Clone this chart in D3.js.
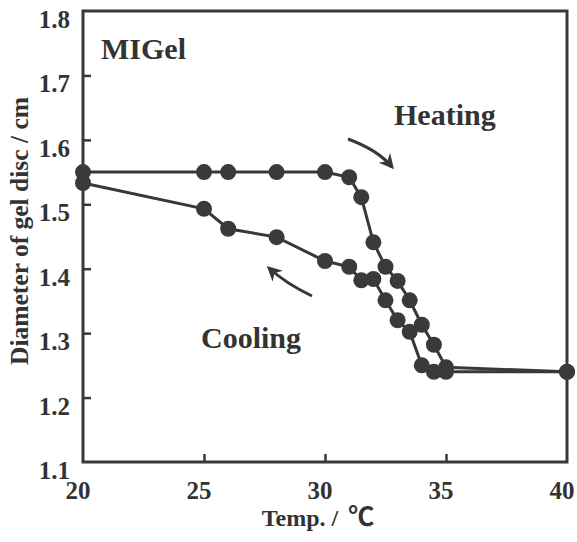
<!DOCTYPE html>
<html><head><meta charset="utf-8">
<script src="https://cdn.jsdelivr.net/npm/d3@7"></script>
<style>
html,body{margin:0;padding:0;background:#fff;}
svg{display:block;}
text{font-family:"Liberation Serif","Times New Roman",serif;font-weight:bold;fill:#333;}
</style></head>
<body>
<script>
// Data
const heatTemp = [20, 25, 26, 28, 30, 31, 31.5, 32, 32.5, 33, 33.5, 34, 34.5, 35, 40];
const heatDiam = [1.55, 1.55, 1.55, 1.55, 1.55, 1.542, 1.511, 1.441, 1.403, 1.381, 1.351, 1.313, 1.282, 1.247, 1.24];
const coolTemp = [40, 35, 34.5, 34, 33.5, 33, 32.5, 32, 31.5, 31, 30, 28, 26, 25, 20];
const coolDiam = [1.24, 1.24, 1.24, 1.25, 1.302, 1.32, 1.351, 1.384, 1.382, 1.403, 1.412, 1.449, 1.462, 1.493, 1.533];
const xTicks = [20, 25, 30, 35, 40];
const yTicks = [1.1, 1.2, 1.3, 1.4, 1.5, 1.6, 1.7, 1.8];
const xTitle = "Temp. / ";
const xUnit = "℃";
const yTitle = "Diameter of gel disc / cm";
const sampleLabel = "MIGel";
const heatLabel = "Heating";
const coolLabel = "Cooling";

const W = 577, H = 542;
const m = {left: 83, right: 10, top: 11, bottom: 80};
const x = d3.scaleLinear().domain([20, 40]).range([m.left, W - m.right]);
const y = d3.scaleLinear().domain([1.1, 1.8]).range([H - m.bottom, m.top]);
const ink = "#383838";

const svg = d3.select("body").append("svg").attr("width", W).attr("height", H);

// inner ticks
svg.append("g").attr("transform", `translate(0,${y(1.1)})`)
  .call(d3.axisBottom(x).tickValues(xTicks.slice(1, -1)).tickSize(-8).tickFormat(""))
  .call(g => g.select(".domain").remove())
  .call(g => g.selectAll("line").attr("stroke", ink).attr("stroke-width", 2.5));
svg.append("g").attr("transform", `translate(${x(20)},0)`)
  .call(d3.axisLeft(y).tickValues(yTicks.slice(1, -1)).tickSize(-8).tickFormat(""))
  .call(g => g.select(".domain").remove())
  .call(g => g.selectAll("line").attr("stroke", ink).attr("stroke-width", 2.5));

// frame
svg.append("rect").attr("x", x(20)).attr("y", y(1.8))
  .attr("width", x(40) - x(20)).attr("height", y(1.1) - y(1.8))
  .attr("fill", "none").attr("stroke", ink).attr("stroke-width", 3);

// tick labels
svg.append("g").selectAll("text").data(yTicks).join("text")
  .attr("x", 70).attr("y", d => y(d) + 17).attr("text-anchor", "end")
  .attr("font-size", 25).text(d => d.toFixed(1));
svg.append("g").selectAll("text").data(xTicks).join("text")
  .attr("x", d => x(d) - 5).attr("y", 499).attr("text-anchor", "middle")
  .attr("font-size", 25).text(d => d);

// axis titles
const xt = svg.append("text").attr("x", 318).attr("y", 526).attr("text-anchor", "middle").attr("font-size", 24);
xt.append("tspan").text(xTitle);
xt.append("tspan").attr("dx", 4).attr("font-family", "'Noto Sans CJK JP', 'DejaVu Sans', sans-serif").attr("font-size", 26).text(xUnit);
svg.append("text").attr("transform", "translate(28,231) rotate(-90)")
  .attr("text-anchor", "middle").attr("font-size", 25.5).text(yTitle);

// annotations
svg.append("text").attr("x", 101).attr("y", 59).attr("font-size", 30).text(sampleLabel);
svg.append("text").attr("x", 394).attr("y", 125).attr("font-size", 30).text(heatLabel);
svg.append("text").attr("x", 201).attr("y", 348).attr("font-size", 30).text(coolLabel);

// arrows
const defs = svg.append("defs");
defs.append("marker").attr("id", "ah").attr("viewBox", "0 0 10 10").attr("refX", 8).attr("refY", 5)
  .attr("markerWidth", 5).attr("markerHeight", 5).attr("orient", "auto")
  .append("path").attr("d", "M0,0 L10,5 L0,10 L3,5 Z").attr("fill", ink);
svg.append("path").attr("d", "M348,139 Q378,150 392,167").attr("fill", "none")
  .attr("stroke", ink).attr("stroke-width", 3).attr("marker-end", "url(#ah)");
svg.append("path").attr("d", "M312,296 Q285,283 269,268").attr("fill", "none")
  .attr("stroke", ink).attr("stroke-width", 3).attr("marker-end", "url(#ah)");

// series
const line = d3.line().x(d => x(d[0])).y(d => y(d[1]));
const heat = heatTemp.map((t, i) => [t, heatDiam[i]]);
const cool = coolTemp.map((t, i) => [t, coolDiam[i]]);
[heat, cool].forEach(s => {
  svg.append("path").datum(s).attr("d", line).attr("fill", "none")
    .attr("stroke", ink).attr("stroke-width", 3);
});
[heat, cool].forEach(s => {
  svg.append("g").selectAll("circle").data(s).join("circle")
    .attr("cx", d => x(d[0])).attr("cy", d => y(d[1])).attr("r", 8)
    .attr("fill", "#3a3a3a");
});
</script>
</body></html>
